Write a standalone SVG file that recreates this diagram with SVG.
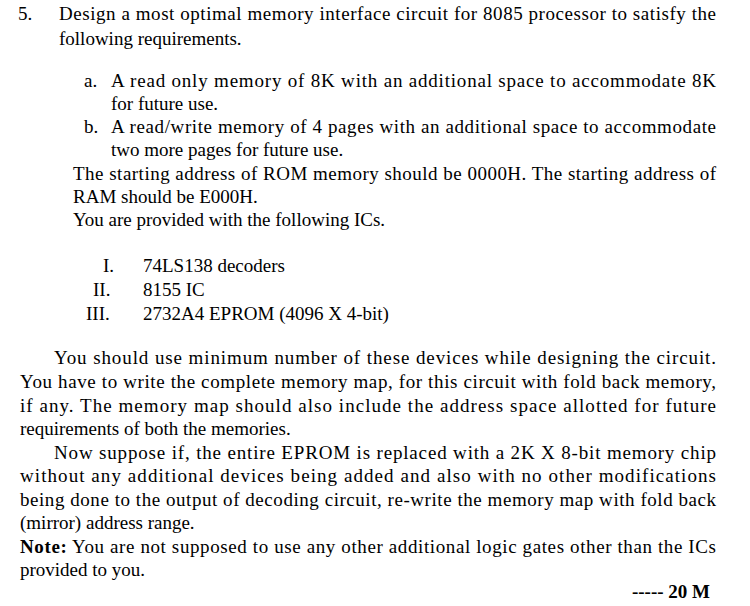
<svg xmlns="http://www.w3.org/2000/svg" width="750" height="606" viewBox="0 0 750 606">
<style>
text{font-family:"Liberation Serif","Times New Roman",serif;font-size:19px;fill:#000}
.b{font-weight:bold}
</style>
<rect width="750" height="606" fill="#fff"/>
<g id="question">
<text x="18" y="20">5.</text>
<text x="59" y="20" textLength="657" lengthAdjust="spacing">Design a most optimal memory interface circuit for 8085 processor to satisfy the</text>
<text x="59" y="45">following requirements.</text>
<text x="84" y="87">a.</text>
<text x="111" y="87" textLength="605" lengthAdjust="spacing">A read only memory of 8K with an additional space to accommodate 8K</text>
<text x="111" y="110">for future use.</text>
<text x="84" y="133">b.</text>
<text x="111" y="133" textLength="605" lengthAdjust="spacing">A read/write memory of 4 pages with an additional space to accommodate</text>
<text x="111" y="156">two more pages for future use.</text>
<text x="73" y="180" textLength="643" lengthAdjust="spacing">The starting address of ROM memory should be 0000H. The starting address of</text>
<text x="73" y="203">RAM should be E000H.</text>
<text x="73" y="226">You are provided with the following ICs.</text>
<text x="103" y="272">I.</text>
<text x="143" y="272">74LS138 decoders</text>
<text x="93" y="296">II.</text>
<text x="143" y="296">8155  IC</text>
<text x="86" y="320">III.</text>
<text x="143" y="320">2732A4 EPROM (4096 X 4-bit)</text>
<text x="54" y="364" textLength="662" lengthAdjust="spacing">You should use minimum number of these devices while designing the circuit.</text>
<text x="20" y="388" textLength="696" lengthAdjust="spacing">You have to write the complete memory map, for this circuit with fold back memory,</text>
<text x="20" y="412" textLength="696" lengthAdjust="spacing">if any. The memory map should also include the address space allotted for future</text>
<text x="20" y="435">requirements of both the memories.</text>
<text x="54" y="459" textLength="662" lengthAdjust="spacing">Now suppose if, the entire EPROM is replaced with a 2K X 8-bit memory chip</text>
<text x="20" y="482" textLength="696" lengthAdjust="spacing">without any additional devices being added  and also with no other modifications</text>
<text x="20" y="506" textLength="696" lengthAdjust="spacing">being done to the output of  decoding circuit, re-write the memory map with fold back</text>
<text x="20" y="529">(mirror) address range.</text>
<text x="20" y="553" textLength="696" lengthAdjust="spacing"><tspan class="b">Note:</tspan> You are not supposed to use any other additional logic gates other than the ICs</text>
<text x="20" y="576">provided to you.</text>
<text x="710" y="598" class="b" text-anchor="end">----- 20 M</text>
</g>
</svg>
